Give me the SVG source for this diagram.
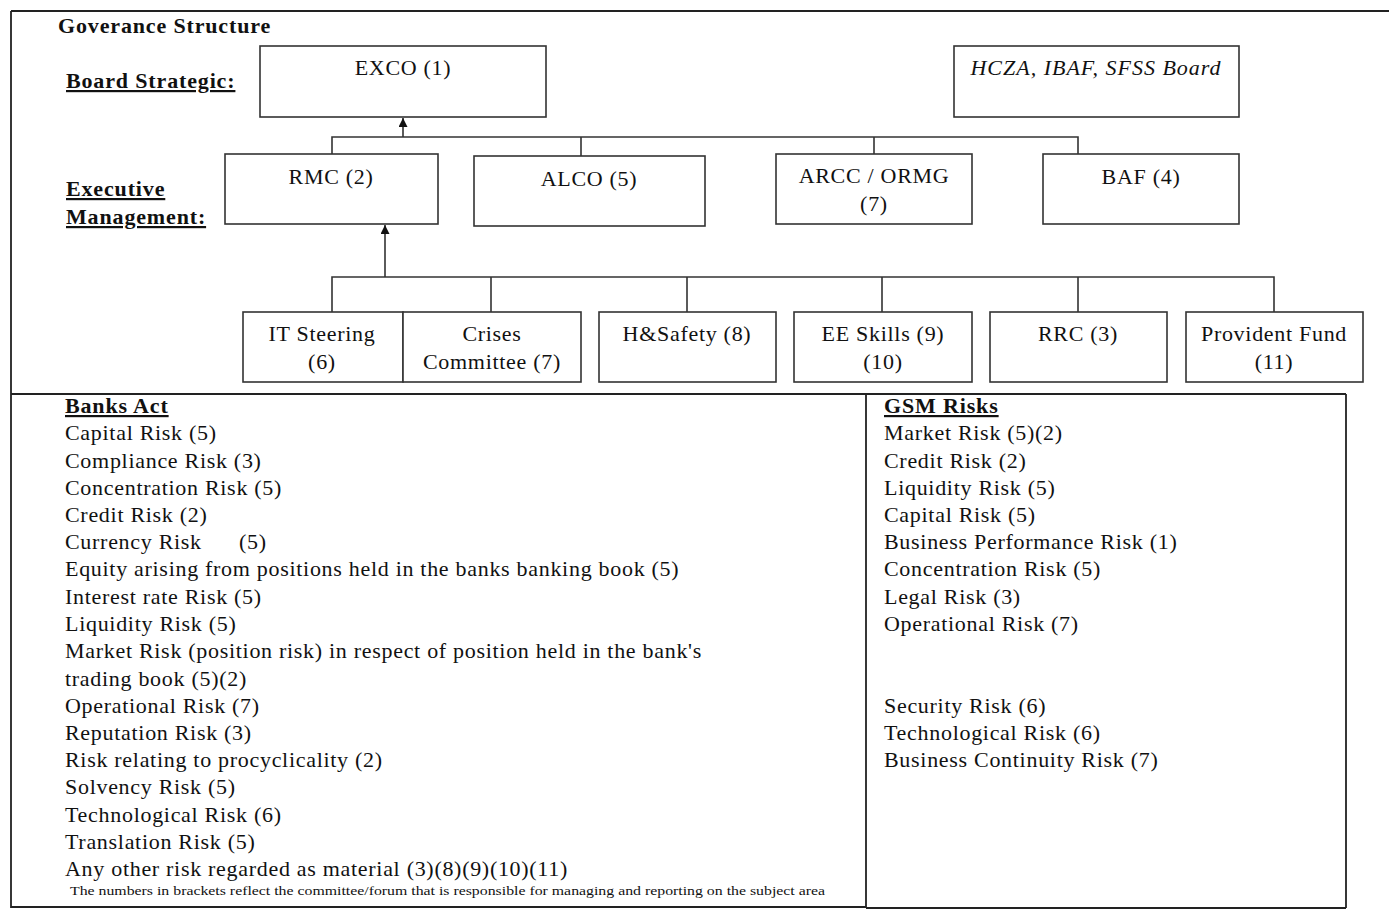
<svg xmlns="http://www.w3.org/2000/svg" width="1389" height="909" viewBox="0 0 1389 909">
<style>
.bx{fill:#fff;stroke:#333;stroke-width:1.6}
.ln{fill:none;stroke:#333;stroke-width:1.6}
.fr{fill:none;stroke:#222;stroke-width:1.8}
.t{font-family:"Liberation Serif","Times New Roman",serif;font-size:22px;fill:#111;letter-spacing:0.7px}
.c{text-anchor:middle}
.b{font-weight:bold;letter-spacing:0.85px}
.u{text-decoration:underline}
.i{font-style:italic;letter-spacing:1px}
.fn{font-family:"Liberation Serif","Times New Roman",serif;font-size:13px;fill:#111}
</style>
<defs>
<marker id="ah" viewBox="0 0 10 10" refX="10" refY="5" markerWidth="9" markerHeight="9" markerUnits="userSpaceOnUse" orient="auto">
<path d="M0,0 L10,5 L0,10 Z" fill="#111"/>
</marker>
</defs>
<rect width="1389" height="909" fill="#fff"/>
<g id="frame">
<path class="fr" d="M11,11 H1389 M11,11 V908 M11,394 H1346 M11,907 H866 M866,394 V908 M1346,394 V908 M866,908 H1346"/>
</g>
<g id="labels">
<text class="t b" x="58" y="33" font-size="21">Goverance Structure</text>
<text class="t b u" x="66" y="88">Board Strategic:</text>
<text class="t b u" x="66" y="196">Executive</text>
<text class="t b u" x="66" y="224">Management:</text>
</g>
<g id="connectors">
<path class="ln" d="M332,154 V137 H1078 V154 M581,137 V156 M874,137 V154"/>
<path class="ln" d="M403,137 V118" marker-end="url(#ah)"/>
<path class="ln" d="M332,312 V277 H1274 V312 M491,277 V312 M687,277 V312 M882,277 V312 M1078,277 V312"/>
<path class="ln" d="M385,277 V225" marker-end="url(#ah)"/>
</g>
<g id="exco"><rect class="bx" x="260" y="46" width="286" height="71"/><text class="t c" x="403" y="75">EXCO (1)</text></g>
<g id="hcza"><rect class="bx" x="954" y="46" width="285" height="71"/><text class="t c i" x="1096" y="75">HCZA, IBAF, SFSS Board</text></g>
<g id="rmc"><rect class="bx" x="225" y="154" width="213" height="70"/><text class="t c" x="331" y="184">RMC (2)</text></g>
<g id="alco"><rect class="bx" x="474" y="156" width="231" height="70"/><text class="t c" x="589" y="186">ALCO (5)</text></g>
<g id="arcc"><rect class="bx" x="776" y="154" width="196" height="70"/><text class="t c" x="874" y="183">ARCC / ORMG</text><text class="t c" x="874" y="211">(7)</text></g>
<g id="baf"><rect class="bx" x="1043" y="154" width="196" height="70"/><text class="t c" x="1141" y="184">BAF (4)</text></g>
<g id="it"><rect class="bx" x="243" y="312" width="160" height="70"/><text class="t c" x="322" y="341">IT Steering</text><text class="t c" x="322" y="369">(6)</text></g>
<g id="crises"><rect class="bx" x="403" y="312" width="178" height="70"/><text class="t c" x="492" y="341">Crises</text><text class="t c" x="492" y="369">Committee (7)</text></g>
<g id="hs"><rect class="bx" x="599" y="312" width="177" height="70"/><text class="t c" x="687" y="341">H&amp;Safety (8)</text></g>
<g id="ee"><rect class="bx" x="794" y="312" width="178" height="70"/><text class="t c" x="883" y="341">EE Skills (9)</text><text class="t c" x="883" y="369">(10)</text></g>
<g id="rrc"><rect class="bx" x="990" y="312" width="177" height="70"/><text class="t c" x="1078" y="341">RRC (3)</text></g>
<g id="pf"><rect class="bx" x="1186" y="312" width="177" height="70"/><text class="t c" x="1274" y="341">Provident Fund</text><text class="t c" x="1274" y="369">(11)</text></g>
<g id="banks-act">
<text class="t b u" x="65" y="413">Banks Act</text>
<text class="t" x="65" y="440">Capital Risk (5)</text>
<text class="t" x="65" y="468">Compliance Risk (3)</text>
<text class="t" x="65" y="495">Concentration Risk (5)</text>
<text class="t" x="65" y="522">Credit Risk (2)</text>
<text class="t" x="65" y="549" xml:space="preserve">Currency Risk      (5)</text>
<text class="t" x="65" y="576">Equity arising from positions held in the banks banking book (5)</text>
<text class="t" x="65" y="604">Interest rate Risk (5)</text>
<text class="t" x="65" y="631">Liquidity Risk (5)</text>
<text class="t" x="65" y="658">Market Risk (position risk) in respect of position held in the bank's</text>
<text class="t" x="65" y="686">trading book (5)(2)</text>
<text class="t" x="65" y="713">Operational Risk (7)</text>
<text class="t" x="65" y="740">Reputation Risk (3)</text>
<text class="t" x="65" y="767">Risk relating to procyclicality (2)</text>
<text class="t" x="65" y="794">Solvency Risk (5)</text>
<text class="t" x="65" y="822">Technological Risk (6)</text>
<text class="t" x="65" y="849">Translation Risk (5)</text>
<text class="t" x="65" y="876">Any other risk regarded as material (3)(8)(9)(10)(11)</text>
<text class="fn" x="70" y="895" textLength="755" lengthAdjust="spacingAndGlyphs">The numbers in brackets reflect the committee/forum that is responsible for managing and reporting on the subject area</text>
</g>
<g id="gsm-risks">
<text class="t b u" x="884" y="413">GSM Risks</text>
<text class="t" x="884" y="440">Market Risk (5)(2)</text>
<text class="t" x="884" y="468">Credit Risk (2)</text>
<text class="t" x="884" y="495">Liquidity Risk (5)</text>
<text class="t" x="884" y="522">Capital Risk (5)</text>
<text class="t" x="884" y="549">Business Performance Risk (1)</text>
<text class="t" x="884" y="576">Concentration Risk (5)</text>
<text class="t" x="884" y="604">Legal Risk (3)</text>
<text class="t" x="884" y="631">Operational Risk (7)</text>
<text class="t" x="884" y="713">Security Risk (6)</text>
<text class="t" x="884" y="740">Technological Risk (6)</text>
<text class="t" x="884" y="767">Business Continuity Risk (7)</text>
</g>
</svg>
